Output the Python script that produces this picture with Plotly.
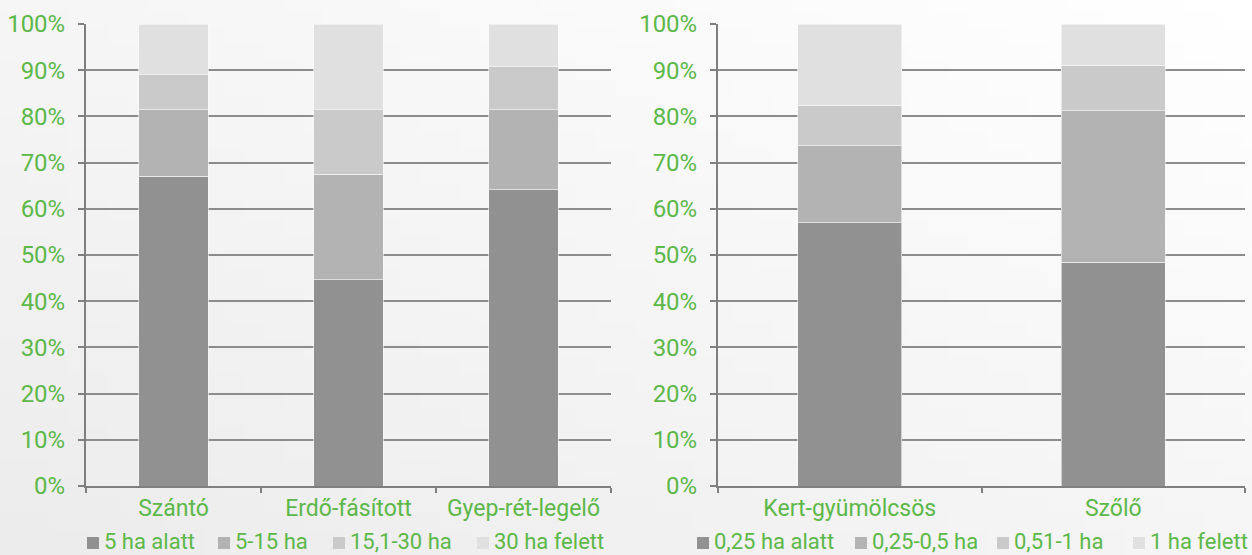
import base64
import struct
import zlib

import plotly.graph_objects as go

# left chart: arable / forest / grassland, share by holding size
left_cats = ["Szántó", "Erdő-fásított", "Gyep-rét-legelő"]
left_names = ["5 ha alatt", "5-15 ha", "15,1-30 ha", "30 ha felett"]
left_under5 = [67.1, 44.6, 64.1]
left_5_15 = [14.3, 22.9, 17.3]
left_15_30 = [7.6, 13.9, 9.4]
left_over30 = [11.0, 18.6, 9.2]

# right chart: orchards / vineyards
right_cats = ["Kert-gyümölcsös", "Szőlő"]
right_names = ["0,25 ha alatt", "0,25-0,5 ha", "0,51-1 ha", "1 ha felett"]
right_under025 = [57.0, 48.4]
right_025_05 = [16.6, 32.8]
right_051_1 = [8.7, 9.8]
right_over1 = [17.7, 9.0]

W, H = 1252, 555
GREEN = "#5cb848"
GRID = "#8c8c8c"
AXIS = "#7f7f7f"
SEG_COLORS = ["#919191", "#b3b3b3", "#cacaca", "#e0e0e0"]
FONT = "Roboto"


def gradient_png(w=64, h=32, lo=236, hi=255):
    # diagonal light-grey -> white background (bottom-left to top-right)
    raw = b""
    for y in range(h):
        row = b"\x00"
        for x in range(w):
            t = (x / (w - 1) + (1 - y / (h - 1))) / 2
            v = int(round(lo + (hi - lo) * t))
            row += bytes([v, v, v])
        raw += row

    def chunk(tag, data):
        return (struct.pack(">I", len(data)) + tag + data
                + struct.pack(">I", zlib.crc32(tag + data) & 0xffffffff))

    png = (b"\x89PNG\r\n\x1a\n"
           + chunk(b"IHDR", struct.pack(">IIBBBBB", w, h, 8, 2, 0, 0, 0))
           + chunk(b"IDAT", zlib.compress(raw))
           + chunk(b"IEND", b""))
    return "data:image/png;base64," + base64.b64encode(png).decode()


fig = go.Figure()

left_series = [left_under5, left_5_15, left_15_30, left_over30]
for name, vals, col in zip(left_names, left_series, SEG_COLORS):
    fig.add_trace(go.Bar(
        x=left_cats, y=vals, name=name,
        marker=dict(color=col, line=dict(color="rgba(250,250,250,0.6)", width=1)),
        xaxis="x", yaxis="y", showlegend=False,
    ))

right_series = [right_under025, right_025_05, right_051_1, right_over1]
for name, vals, col in zip(right_names, right_series, SEG_COLORS):
    fig.add_trace(go.Bar(
        x=right_cats, y=vals, name=name,
        marker=dict(color=col, line=dict(color="rgba(250,250,250,0.6)", width=1)),
        xaxis="x2", yaxis="y2", showlegend=False,
    ))


def px_x(p):
    return p / W


def px_y(p):
    return 1 - p / H


yaxis_style = dict(
    range=[0, 100], dtick=10, ticksuffix="%",
    showgrid=True, gridcolor=GRID, gridwidth=2,
    showline=True, linecolor=AXIS, linewidth=2,
    ticks="outside", ticklen=6, tickwidth=2, tickcolor=AXIS,
    zeroline=False, ticklabelstandoff=8, automargin=False,
    tickfont=dict(family=FONT, size=24, color=GREEN),
)
xaxis_style = dict(
    showline=True, linecolor=AXIS, linewidth=2,
    ticks="outside", ticklen=5, tickwidth=2, tickcolor=AXIS,
    tickson="boundaries", showgrid=False, automargin=False,
    tickfont=dict(family=FONT, size=23, color=GREEN),
)

fig.update_layout(
    width=W, height=H,
    margin=dict(l=0, r=0, t=0, b=0, autoexpand=False),
    showlegend=False,
    paper_bgcolor="#f6f6f6",
    plot_bgcolor="rgba(0,0,0,0)",
    barmode="stack", barnorm="percent", bargap=0.605,
    xaxis=dict(domain=[px_x(86), px_x(611)], anchor="y", **xaxis_style),
    yaxis=dict(domain=[px_y(486), px_y(24)], anchor="x", **yaxis_style),
    xaxis2=dict(domain=[px_x(718), px_x(1245)], anchor="y2", **xaxis_style),
    yaxis2=dict(domain=[px_y(486), px_y(24)], anchor="x2", **yaxis_style),
    images=[dict(source=gradient_png(), xref="paper", yref="paper",
                 x=0, y=1, sizex=1, sizey=1, sizing="stretch",
                 xanchor="left", yanchor="top", layer="below")],
)

# legends drawn as swatch + text, positioned like the original
legend_left_x = [87, 218, 333, 477]
legend_right_x = [697, 855, 997, 1133]
sw = 12
sw_top, sw_bot = 537, 549
text_mid = 541

for names, xs in ((left_names, legend_left_x), (right_names, legend_right_x)):
    for name, x0, col in zip(names, xs, SEG_COLORS):
        fig.add_shape(type="rect", xref="paper", yref="paper",
                      x0=px_x(x0), x1=px_x(x0 + sw),
                      y0=px_y(sw_bot), y1=px_y(sw_top),
                      fillcolor=col, line=dict(width=0))
        fig.add_annotation(text=name, xref="paper", yref="paper",
                           x=px_x(x0 + sw + 3), y=px_y(text_mid),
                           xanchor="left", yanchor="middle", showarrow=False,
                           font=dict(family=FONT, size=22, color=GREEN))

fig.write_html(
    "out.html",
    config={"displayModeBar": False},
    post_script="document.body.style.margin='0';document.body.style.overflow='hidden';",
)
